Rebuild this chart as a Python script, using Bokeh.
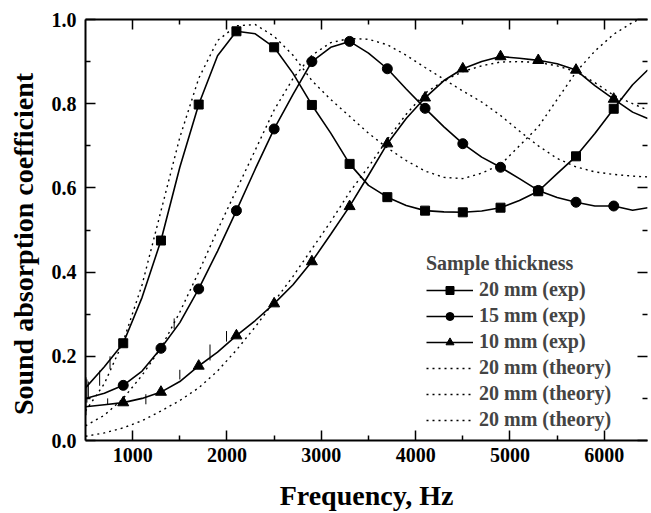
from bokeh.plotting import figure
from bokeh.models import (LinearAxis, FixedTicker, Legend, LegendItem, Range1d,
                          PrintfTickFormatter, CustomLabelingPolicy)
from bokeh.embed import file_html
from bokeh.resources import INLINE

# ---------------- data ----------------
freq = [500, 700, 900, 1100, 1300, 1500, 1700, 1900, 2100, 2300, 2500, 2700, 2900,
        3100, 3300, 3500, 3700, 3900, 4100, 4300, 4500, 4700, 4900, 5100, 5300,
        5500, 5700, 5900, 6100, 6300, 6460]

exp_20mm = [0.125, 0.175, 0.231, 0.34, 0.475, 0.649, 0.798, 0.914, 0.972, 0.966,
            0.934, 0.872, 0.797, 0.73, 0.657, 0.606, 0.578, 0.558, 0.546, 0.543,
            0.542, 0.545, 0.553, 0.57, 0.592, 0.634, 0.675, 0.729, 0.788, 0.845, 0.88]
exp_15mm = [0.10, 0.112, 0.131, 0.165, 0.219, 0.28, 0.36, 0.45, 0.546, 0.645,
            0.740, 0.822, 0.900, 0.934, 0.948, 0.92, 0.883, 0.835, 0.789, 0.745,
            0.705, 0.673, 0.649, 0.622, 0.594, 0.577, 0.566, 0.557, 0.557, 0.547, 0.553]
exp_10mm = [0.08, 0.085, 0.09, 0.10, 0.115, 0.14, 0.177, 0.21, 0.249, 0.285,
            0.325, 0.37, 0.425, 0.49, 0.556, 0.63, 0.705, 0.765, 0.814, 0.855,
            0.883, 0.90, 0.912, 0.908, 0.903, 0.895, 0.880, 0.843, 0.811, 0.78, 0.765]

theory_20mm = [0.07, 0.135, 0.235, 0.37, 0.545, 0.72, 0.86, 0.95, 0.985, 0.988,
               0.96, 0.915, 0.855, 0.81, 0.77, 0.73, 0.695, 0.665, 0.64, 0.625,
               0.622, 0.635, 0.655, 0.70, 0.745, 0.81, 0.875, 0.925, 0.965, 0.993, 1.01]
theory_15mm = [0.035, 0.06, 0.10, 0.155, 0.22, 0.305, 0.40, 0.50, 0.595, 0.69,
               0.785, 0.86, 0.915, 0.945, 0.955, 0.953, 0.94, 0.915, 0.886, 0.858,
               0.83, 0.804, 0.772, 0.735, 0.70, 0.67, 0.65, 0.638, 0.632, 0.628, 0.626]
theory_10mm = [0.01, 0.018, 0.03, 0.047, 0.07, 0.095, 0.125, 0.165, 0.215, 0.27,
               0.33, 0.39, 0.455, 0.52, 0.59, 0.65, 0.715, 0.775, 0.825, 0.855,
               0.876, 0.89, 0.899, 0.90, 0.898, 0.89, 0.876, 0.85, 0.82, 0.80, 0.785]

# measurement noise spikes on the low-frequency part of the exp curves
spike_f = [505, 515, 530, 650, 760, 735, 1140, 1440, 1500, 1820, 1995]
spike_lo = [0.06, 0.09, 0.10, 0.13, 0.17, 0.085, 0.086, 0.265, 0.145, 0.19, 0.235]
spike_hi = [0.15, 0.145, 0.14, 0.166, 0.20, 0.10, 0.11, 0.29, 0.168, 0.228, 0.26]

x_major = [1000, 2000, 3000, 4000, 5000, 6000]
x_minor = [1500, 2500, 3500, 4500, 5500]
y_major = [0.0, 0.2, 0.4, 0.6, 0.8, 1.0]
y_minor = [0.1, 0.3, 0.5, 0.7, 0.9]

legend_title = "Sample thickness"
labels = ["20 mm (exp)", "15 mm (exp)", "10 mm (exp)",
          "20 mm (theory)", "20 mm (theory)", "20 mm (theory)"]

mk = slice(2, 29, 2)  # marker every 400 Hz from 900 to 6100 Hz

# ---------------- figure ----------------
FONT = "Liberation Serif"
p = figure(width=651, height=513, output_backend="svg", toolbar_location=None,
           x_range=Range1d(500, 6458), y_range=Range1d(0, 1.0),
           min_border_left=85, min_border_top=19, min_border_bottom=73,
           min_border_right=0)
p.xgrid.visible = False
p.ygrid.visible = False
p.outline_line_color = None
p.background_fill_color = "white"
p.border_fill_color = "white"

xt = FixedTicker(ticks=x_major, minor_ticks=x_minor)
yt = FixedTicker(ticks=y_major, minor_ticks=y_minor)

no_labels = CustomLabelingPolicy(code="""
    try { indices.clear() } catch (e) {
        for (let i = 0; i < indices.size; i++) { try { indices.unset(i) } catch (e2) {} }
    }
    return indices
""")


def style_axis(ax, label_size="20px"):
    ax.axis_line_width = 2
    ax.axis_line_color = "black"
    ax.major_tick_in = 10
    ax.major_tick_out = 0
    ax.minor_tick_in = 5
    ax.minor_tick_out = 0
    ax.major_tick_line_width = 1.5
    ax.minor_tick_line_width = 1.5
    ax.major_tick_line_color = "black"
    ax.minor_tick_line_color = "black"
    ax.major_label_text_font = FONT
    ax.major_label_text_font_style = "bold"
    ax.major_label_text_font_size = label_size
    ax.major_label_text_color = "black"
    ax.axis_label_text_font = FONT
    ax.axis_label_text_font_style = "bold"
    ax.axis_label_text_font_size = "28px"
    ax.axis_label_text_color = "black"


xa = p.xaxis[0]
xa.ticker = xt
style_axis(xa)
xa.major_label_standoff = 7
xa.axis_label = "Frequency, Hz"
xa.axis_label_standoff = 15

ya = p.yaxis[0]
ya.ticker = yt
ya.formatter = PrintfTickFormatter(format="%.1f")
style_axis(ya)
ya.major_label_standoff = 9
ya.axis_label = "Sound absorption coefficient\u2002\u2002"
ya.axis_label_standoff = 10

top = LinearAxis(ticker=xt, major_label_policy=no_labels)
style_axis(top, label_size="1px")
top.major_label_standoff = 0
p.add_layout(top, "above")

right = LinearAxis(ticker=yt, major_label_policy=no_labels)
style_axis(right, label_size="1px")
right.major_label_standoff = 0
right.axis_line_alpha = 0
p.add_layout(right, "right")

# ---------------- glyphs ----------------
p.segment(x0=spike_f, y0=spike_lo, x1=spike_f, y1=spike_hi,
          line_color="black", line_width=1)

dot = dict(line_color="black", line_width=1.4, line_dash="2 4")
t20 = p.line(freq, theory_20mm, **dot)
t15 = p.line(freq, theory_15mm, **dot)
t10 = p.line(freq, theory_10mm, **dot)

solid = dict(line_color="black", line_width=1.6)
l20 = p.line(freq, exp_20mm, **solid)
l15 = p.line(freq, exp_15mm, **solid)
l10 = p.line(freq, exp_10mm, **solid)

s20 = p.scatter(freq[mk], exp_20mm[mk], marker="square", size=9, color="black")
s15 = p.scatter(freq[mk], exp_15mm[mk], marker="circle", size=10, color="black")
s10 = p.scatter(freq[mk], exp_10mm[mk], marker="triangle", size=11, color="black")

# ---------------- legend ----------------
items = [
    LegendItem(label=labels[0], renderers=[l20, s20]),
    LegendItem(label=labels[1], renderers=[l15, s15]),
    LegendItem(label=labels[2], renderers=[l10, s10]),
    LegendItem(label=labels[3], renderers=[t20]),
    LegendItem(label=labels[4], renderers=[t15]),
    LegendItem(label=labels[5], renderers=[t10]),
]
legend = Legend(items=items, title=legend_title, location=(341, 9),
                title_text_font=FONT, title_text_font_style="bold",
                title_text_font_size="20px", title_standoff=3,
                label_text_font=FONT, label_text_font_style="bold",
                label_text_font_size="20px", label_standoff=6,
                glyph_width=47, glyph_height=20, label_height=20, spacing=3,
                padding=0, margin=0, border_line_color=None,
                background_fill_alpha=0)
p.add_layout(legend)

open("out.html", "w").write(file_html(p, INLINE))
